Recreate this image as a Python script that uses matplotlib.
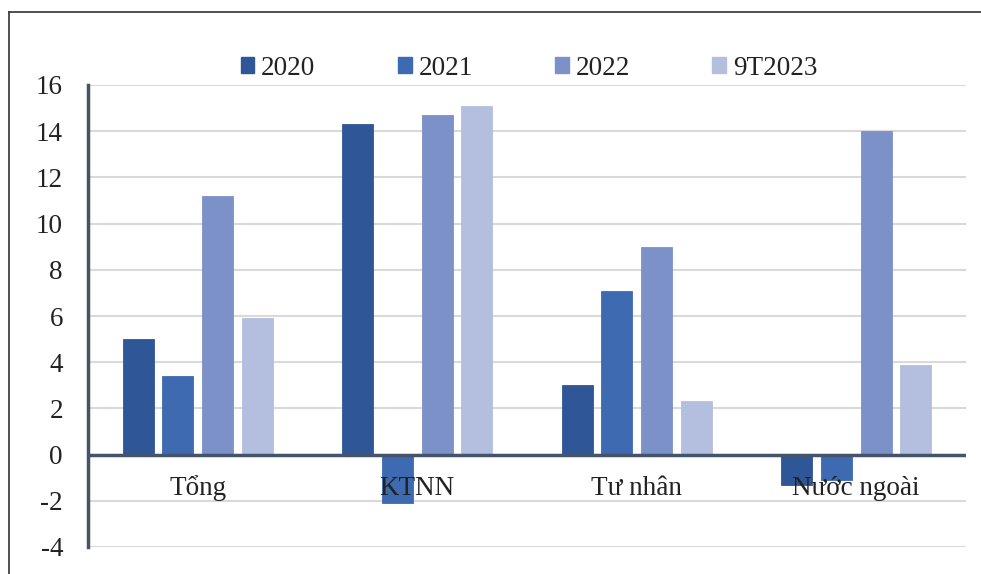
import matplotlib
matplotlib.use("Agg")
import matplotlib.pyplot as plt
import numpy as np
from matplotlib.lines import Line2D
from matplotlib.patches import Patch

categories = ["Tổng", "KTNN", "Tư nhân", "Nước ngoài"]
series_names = ["2020", "2021", "2022", "9T2023"]
v2020 = [5.0, 14.3, 3.0, -1.3]
v2021 = [3.4, -2.1, 7.1, -1.1]
v2022 = [11.2, 14.7, 9.0, 14.0]
v9T2023 = [5.9, 15.1, 2.3, 3.9]
yticks = [-4, -2, 0, 2, 4, 6, 8, 10, 12, 14, 16]

colors = ["#2F5797", "#3D6AB0", "#7B91C7", "#B4BFDF"]
series = [v2020, v2021, v2022, v9T2023]

plt.rcParams['font.family'] = ['Liberation Serif', 'DejaVu Serif']

fig = plt.figure(figsize=(9.81, 5.74), dpi=100)
ax = fig.add_axes([88/981, 1-547/574, (966-88)/981, (547-85)/574])

x = np.arange(len(categories))
pitch = 0.1813
width = 0.141
for i, (vals, c) in enumerate(zip(series, colors)):
    ax.bar(x + (i - 1.5) * pitch, vals, width=width, color=c,
           edgecolor=c, linewidth=0.6, zorder=3)

ax.set_xlim(-0.5, len(categories) - 0.5)
ax.set_ylim(-4, 16)
ax.set_yticks(yticks)
ax.set_yticklabels([str(t) for t in yticks], fontsize=19.5, color="#222222")
ax.yaxis.grid(True, color="#D9D9D9", linewidth=1.5, zorder=0)
ax.set_axisbelow(True)
ax.tick_params(axis='y', length=0, pad=18)
ax.tick_params(axis='x', length=0, labelbottom=False)

for s in ['top', 'right', 'bottom']:
    ax.spines[s].set_visible(False)
ax.spines['left'].set_color("#44546A")
ax.spines['left'].set_linewidth(2.5)
ax.axhline(0, color="#44546A", linewidth=2.5, zorder=4)

for xi, cat in zip(x, categories):
    ax.text(xi, -1.45, cat, ha='center', va='center', fontsize=19.5,
            color="#222222", zorder=5)

handles = [Patch(facecolor=c, edgecolor=c) for c in colors]
leg = fig.legend(handles, series_names, loc='center', ncol=4,
                 bbox_to_anchor=(529/981, 1-68/574), frameon=False,
                 fontsize=19.5, handlelength=0.5, handleheight=0.5,
                 handletextpad=0.25, columnspacing=3.05,
                 labelcolor="#222222")

# outer border (left and top edges visible)
fig.add_artist(Line2D([9/981, 9/981], [0, 1-12/574], transform=fig.transFigure,
                      color="#333333", linewidth=1.2))
fig.add_artist(Line2D([9/981, 1], [1-12/574, 1-12/574], transform=fig.transFigure,
                      color="#333333", linewidth=1.2))

fig.savefig("out.png", dpi=100)
